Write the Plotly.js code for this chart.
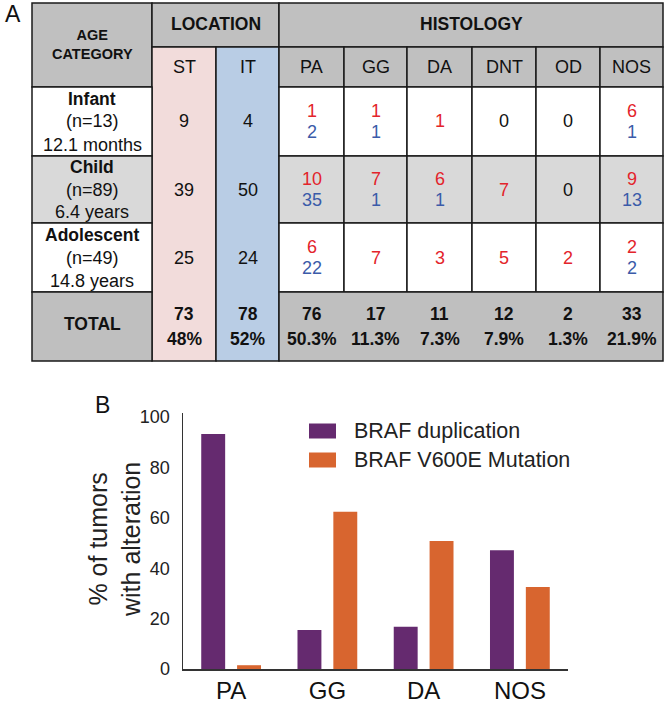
<!DOCTYPE html>
<html>
<head>
<meta charset="utf-8">
<script src="https://cdn.plot.ly/plotly-3.0.1.min.js"></script>
<style>html,body{margin:0;padding:0;background:#fff;}#chart{width:666px;height:705px;}</style>
</head>
<body>
<div id="chart"></div>
<script>
// ---------- DATA (panel A table) ----------
const ageGroups = ['Infant', 'Child', 'Adolescent'];
const ageN = ['(n=13)', '(n=89)', '(n=49)'];
const ageMedian = ['12.1 months', '6.4 years', '14.8 years'];
const locations = ['ST', 'IT'];
const stCounts = [9, 39, 25];
const itCounts = [4, 50, 24];
const histologies = ['PA', 'GG', 'DA', 'DNT', 'OD', 'NOS'];
// per age group (rows) x histology (cols): supratentorial (red) and infratentorial (blue)
const histST = [[1, 1, 1, 0, 0, 6], [10, 7, 6, 7, 0, 9], [6, 7, 3, 5, 2, 2]];
const histIT = [[2, 1, 0, 0, 0, 1], [35, 1, 1, 0, 0, 13], [22, 0, 0, 0, 0, 2]];
const locTotals = [73, 78];
const locPct = ['48%', '52%'];
const histTotals = [76, 17, 11, 12, 2, 33];
const histPct = ['50.3%', '11.3%', '7.3%', '7.9%', '1.3%', '21.9%'];

// ---------- DATA (panel B bars) ----------
const barCategories = ['PA', 'GG', 'DA', 'NOS'];
const seriesNames = ['BRAF duplication', 'BRAF V600E Mutation'];
const dupValues = [93.3, 15.5, 16.8, 47.1];
const mutValues = [1.5, 62.4, 50.8, 32.5];
const yTicks = [0, 20, 40, 60, 80, 100];
const yTitle = '% of tumors<br>with alteration';

// ---------- LAYOUT CONSTANTS ----------
const W = 666, H = 705;
const FONT = "Arial, 'Liberation Sans', sans-serif";
const colX = [32, 152, 216, 279, 344, 407, 472, 536, 600, 663];
const rowY = [3, 47, 87, 156, 223, 292, 361];
const HDR = '#c0c0c0', PINK = '#f2dcdb', BLUE = '#b9cde5', ROW2 = '#d9d9d9', TOT = '#bfbfbf';
const RED = '#e3242b', BLU = '#3b5ba9', INK = '#111111';
const rowFills = ['#ffffff', ROW2, '#ffffff'];
const PURPLE = '#652a6f', ORANGE = '#d8652f';

const X = p => p / W;
const Y = p => 1 - p / H;
const shapes = [], ann = [];
function rect(x0, y0, x1, y1, fill, lw) {
  shapes.push({type: 'rect', xref: 'paper', yref: 'paper', x0: X(x0), x1: X(x1), y0: Y(y1), y1: Y(y0),
    fillcolor: fill, line: {color: '#1a1a1a', width: lw === undefined ? 1.5 : lw}, layer: 'above'});
}
function txt(x, y, t, size, color, bold, anchor, angle) {
  ann.push({xref: 'paper', yref: 'paper', x: X(x), y: Y(y), text: bold ? '<b>' + t + '</b>' : t,
    showarrow: false, xanchor: anchor || 'center', yanchor: 'middle', textangle: angle || 0,
    font: {family: FONT, size: size, color: color || INK}});
}
const cx = i => (colX[i] + colX[i + 1]) / 2;
const cy = i => (rowY[i] + rowY[i + 1]) / 2;

// header row 1
rect(colX[0], rowY[0], colX[1], rowY[2], HDR);
txt(cx(0), 45, 'AGE<br>CATEGORY', 14.5, INK, true);
rect(colX[1], rowY[0], colX[3], rowY[1], HDR);
txt((colX[1] + colX[3]) / 2, 24, 'LOCATION', 17.5, INK, true);
rect(colX[3], rowY[0], colX[9], rowY[1], HDR);
txt((colX[3] + colX[9]) / 2, 24, 'HISTOLOGY', 17.5, INK, true);
// location columns (continuous)
rect(colX[1], rowY[1], colX[2], rowY[6], PINK);
rect(colX[2], rowY[1], colX[3], rowY[6], BLUE);
locations.forEach((l, i) => txt(cx(1 + i), 67, l, 18));
// histology headers
histologies.forEach((h, i) => { rect(colX[3 + i], rowY[1], colX[4 + i], rowY[2], HDR); txt(cx(3 + i), 67, h, 18); });
// body rows
ageGroups.forEach((g, r) => {
  const y0 = rowY[2 + r], y1 = rowY[3 + r], c = cy(2 + r);
  rect(colX[0], y0, colX[1], y1, rowFills[r]);
  txt(cx(0), c - 23, g, 17.5, INK, true);
  txt(cx(0), c, ageN[r], 18);
  txt(cx(0), c + 23, ageMedian[r], 18);
  txt(cx(1), c, String(stCounts[r]), 18);
  txt(cx(2), c, String(itCounts[r]), 18);
  histologies.forEach((h, i) => {
    rect(colX[3 + i], y0, colX[4 + i], y1, rowFills[r]);
    const s = histST[r][i], t = histIT[r][i];
    if (s > 0 && t > 0) { txt(cx(3 + i), c - 10.5, String(s), 18, RED); txt(cx(3 + i), c + 10.5, String(t), 18, BLU); }
    else if (s > 0) txt(cx(3 + i), c, String(s), 18, RED);
    else if (t > 0) txt(cx(3 + i), c, String(t), 18, BLU);
    else txt(cx(3 + i), c, '0', 18, INK);
  });
});
// total row
rect(colX[0], rowY[5], colX[1], rowY[6], TOT);
txt(cx(0), cy(5) - 2, 'TOTAL', 17.5, INK, true);
locTotals.forEach((v, i) => { txt(cx(1 + i), cy(5) - 12.5, String(v), 17.5, INK, true); txt(cx(1 + i), cy(5) + 12.5, locPct[i], 17.5, INK, true); });
rect(colX[3], rowY[5], colX[9], rowY[6], TOT);
histTotals.forEach((v, i) => { txt(cx(3 + i), cy(5) - 12.5, String(v), 17.5, INK, true); txt(cx(3 + i), cy(5) + 12.5, histPct[i], 17.5, INK, true); });
// panel letters
txt(13, 14, 'A', 23, '#111');
txt(102, 405, 'B', 23, '#111');
// y axis title of panel B
txt(114, 540, yTitle, 25, '#222', false, 'center', -90);
// custom legend for panel B
[PURPLE, ORANGE].forEach((col, i) => {
  const yc = 431 + i * 29;
  shapes.push({type: 'rect', xref: 'paper', yref: 'paper', x0: X(309), x1: X(336), y0: Y(yc + 7.5), y1: Y(yc - 7.5),
    fillcolor: col, line: {width: 0}});
  txt(352, yc, seriesNames[i], 21.5, '#222', false, 'left');
});

const traces = [
  {type: 'bar', name: seriesNames[0], x: barCategories, y: dupValues, marker: {color: PURPLE}, showlegend: false},
  {type: 'bar', name: seriesNames[1], x: barCategories, y: mutValues, marker: {color: ORANGE}, showlegend: false}
];

const layout = {
  width: W, height: H,
  margin: {l: 0, r: 0, t: 0, b: 0},
  paper_bgcolor: '#ffffff', plot_bgcolor: '#ffffff',
  barmode: 'group', bargap: 0.255, bargroupgap: 0.333,
  showlegend: false,
  xaxis: {domain: [X(183), X(568)], type: 'category', range: [-0.5, 3.5], showline: true, linecolor: '#333', linewidth: 1.5,
    showgrid: false, zeroline: false, ticks: '', ticklabelstandoff: 0,
    tickfont: {family: FONT, size: 24, color: '#111'}},
  yaxis: {domain: [Y(669), Y(413)], range: [0, 101.6], showline: true, linecolor: '#333', linewidth: 1.5,
    showgrid: false, zeroline: false, ticks: '', tickvals: yTicks, ticklabelstandoff: 8,
    tickfont: {family: FONT, size: 18, color: '#222'}},
  shapes: shapes,
  annotations: ann
};

Plotly.newPlot('chart', traces, layout, {staticPlot: true, displayModeBar: false});
</script>
</body>
</html>
